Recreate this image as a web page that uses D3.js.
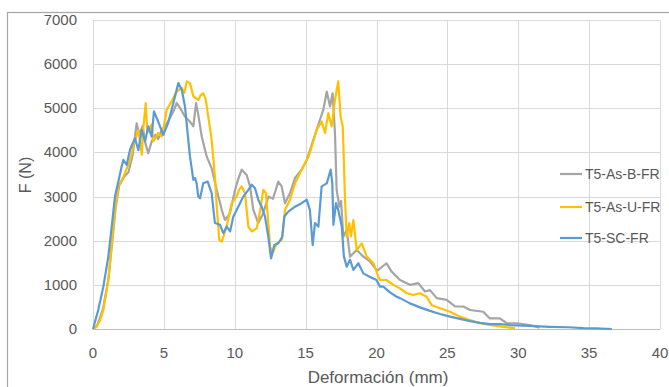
<!DOCTYPE html>
<html>
<head>
<meta charset="utf-8">
<script src="https://cdn.jsdelivr.net/npm/d3@7"></script>
<style>
  body { margin: 0; background: #fff; }
  svg { display: block; font-family: "Liberation Sans", Arial, sans-serif; }
</style>
</head>
<body>
<div id="chart"></div>
<script>
// Deformación (mm), F (N) pairs
const grayData = [[0,0],[0.3,80],[0.7,450],[1.1,1150],[1.35,1950],[1.6,2750],[1.85,3250],[2.2,3450],[2.5,3550],[2.8,3950],[3.08,4660],[3.2,4500],[3.32,4440],[3.5,4600],[3.7,4200],[3.9,3980],[4.14,4250],[4.4,4400],[4.6,4300],[4.84,4510],[5.1,4600],[5.43,4780],[5.7,4950],[5.9,5120],[6.14,5010],[6.49,4810],[6.84,4700],[7.08,4590],[7.27,5120],[7.43,4850],[7.67,4360],[8.02,3910],[8.37,3640],[8.73,3150],[9.08,2700],[9.31,2470],[9.66,2620],[10.02,3150],[10.25,3400],[10.49,3610],[10.84,3490],[11.08,3230],[11.31,2700],[11.66,2400],[12.01,2620],[12.37,3000],[12.7,2950],[13.07,3340],[13.31,3230],[13.55,2850],[13.9,3080],[14.25,3420],[14.72,3610],[15.08,3830],[15.55,4290],[16.01,4740],[16.25,4970],[16.49,5380],[16.72,5040],[16.9,5340],[17.07,4440],[17.19,3150],[17.38,2770],[17.5,2900],[17.66,2090],[17.9,2240],[18.13,1640],[18.6,1790],[19.07,1640],[19.54,1530],[20.0,1340],[20.13,1340],[20.7,1490],[21.07,1300],[21.66,1110],[22.36,1000],[22.95,1040],[23.42,850],[23.77,880],[24.25,700],[24.95,660],[25.54,510],[26.13,510],[26.6,430],[27.53,390],[28.0,240],[28.7,240],[29.19,130],[29.9,130],[30.8,90],[31.5,30]];

const yellowData = [[0,0],[0.26,50],[0.5,200],[0.73,430],[1.08,1110],[1.32,1940],[1.55,2700],[1.79,3230],[2.14,3450],[2.4,3650],[2.6,3800],[2.84,4130],[3.0,4300],[3.2,4510],[3.44,3950],[3.55,4550],[3.72,5120],[3.83,4440],[4.14,4630],[4.25,4250],[4.6,4440],[4.84,4360],[5.0,4600],[5.2,4970],[5.55,5160],[5.9,5380],[6.26,5460],[6.45,5350],[6.61,5610],[6.84,5570],[7.08,5270],[7.43,5190],[7.6,5300],[7.78,5340],[7.95,5200],[8.13,4810],[8.37,4290],[8.6,3450],[8.73,2770],[8.91,2020],[9.08,1980],[9.43,2320],[9.78,2850],[10.13,3000],[10.3,3150],[10.49,3230],[10.72,3080],[10.96,2320],[11.2,2210],[11.55,2280],[11.8,2700],[12.01,3150],[12.2,3080],[12.37,2400],[12.49,1870],[12.67,1720],[12.96,1940],[13.31,2020],[13.55,2700],[13.9,2930],[14.25,3300],[14.6,3530],[14.96,3760],[15.2,3900],[15.43,4130],[15.78,4510],[16.13,4700],[16.37,4440],[16.6,4890],[16.84,4590],[17.07,5190],[17.3,5610],[17.47,4810],[17.62,4590],[17.78,2930],[17.9,2090],[18.08,2400],[18.2,2100],[18.37,2470],[18.6,1790],[18.96,1940],[19.31,1640],[19.54,1570],[19.78,1490],[20.13,1190],[20.25,1110],[20.7,1110],[21.19,1000],[21.66,920],[22.13,810],[22.6,770],[23.07,810],[23.54,730],[23.89,540],[24.48,470],[25.19,390],[25.89,280],[26.6,200],[27.3,130],[28.0,90],[28.95,50],[29.77,15]];

const blueData = [[0,0],[0.37,430],[0.73,960],[1.08,1640],[1.32,2320],[1.55,3000],[1.79,3340],[2.02,3680],[2.14,3830],[2.38,3720],[2.61,4060],[2.96,4320],[3.2,4050],[3.44,4510],[3.67,4250],[3.9,4590],[4.14,4360],[4.3,4930],[4.6,4700],[4.96,4400],[5.3,4670],[5.67,5120],[6.02,5570],[6.26,5420],[6.49,5040],[6.72,4290],[6.84,3910],[7.08,3380],[7.2,3420],[7.31,3300],[7.43,3000],[7.55,2960],[7.78,3300],[8.09,3340],[8.37,3080],[8.6,2400],[8.96,2360],[9.19,2170],[9.43,2320],[9.67,2210],[9.9,2550],[10.25,2770],[10.6,3000],[10.96,3150],[11.2,3270],[11.43,3190],[11.66,2930],[11.9,2770],[12.13,2550],[12.37,2090],[12.56,1600],[12.79,1900],[13.07,1940],[13.36,2090],[13.5,2550],[13.78,2660],[14.25,2770],[14.72,2850],[15.08,2930],[15.3,2700],[15.5,1900],[15.66,2400],[15.9,2320],[16.13,3230],[16.49,3300],[16.77,3610],[16.88,3300],[16.96,2360],[17.14,2850],[17.3,2700],[17.55,2320],[17.7,1640],[17.9,1410],[18.13,1570],[18.37,1340],[18.72,1490],[19.07,1260],[19.54,1180],[20.0,1110],[20.25,960],[20.48,960],[20.95,830],[21.42,730],[21.66,700],[22.36,580],[23.07,490],[23.77,410],[24.48,340],[25.19,280],[25.89,230],[26.6,180],[27.3,140],[28.0,110],[28.7,110],[29.4,90],[30.8,70],[32.2,50],[33.5,40],[34.6,20],[35.5,15],[36.6,0]];

const seriesNames = ['T5-As-B-FR', 'T5-As-U-FR', 'T5-SC-FR'];
const seriesColors = ['#a5a5a5', '#ffc000', '#5b9bd5'];
const xTicks = [0, 5, 10, 15, 20, 25, 30, 35, 40];
const yTicks = [0, 1000, 2000, 3000, 4000, 5000, 6000, 7000];

const W = 669, H = 387;
const svg = d3.select('#chart').append('svg').attr('width', W).attr('height', H);
svg.append('rect').attr('width', W).attr('height', H).attr('fill', '#fff');

// outer chart frame
svg.append('rect')
  .attr('x', 7.5).attr('y', 12.5).attr('width', 700).attr('height', 400)
  .attr('fill', 'none').attr('stroke', '#a6a6a6').attr('stroke-width', 1.2);

const x = d3.scaleLinear().domain([0, 40]).range([93, 660]);
const y = d3.scaleLinear().domain([0, 7000]).range([329, 20]);

// grid
svg.append('g')
  .attr('stroke-width', 1)
  .selectAll('line.h').data(yTicks).enter().append('line')
  .attr('x1', x(0)).attr('x2', x(40))
  .attr('y1', d => Math.round(y(d)) + 0.5).attr('y2', d => Math.round(y(d)) + 0.5)
  .attr('stroke', d => d === 0 ? '#bfbfbf' : '#d9d9d9');
svg.append('g')
  .attr('stroke', '#d9d9d9').attr('stroke-width', 1)
  .selectAll('line.v').data(xTicks).enter().append('line')
  .attr('x1', d => Math.round(x(d)) + 0.5).attr('x2', d => Math.round(x(d)) + 0.5)
  .attr('y1', y(7000)).attr('y2', y(0));

// tick labels
svg.append('g').selectAll('text').data(yTicks).enter().append('text')
  .attr('x', 77).attr('y', d => y(d) + 5)
  .attr('text-anchor', 'end').attr('font-size', '15px').attr('fill', '#595959')
  .text(d => d);
svg.append('g').selectAll('text').data(xTicks).enter().append('text')
  .attr('x', d => x(d)).attr('y', 358)
  .attr('text-anchor', 'middle').attr('font-size', '15px').attr('fill', '#595959')
  .text(d => d);

// axis titles
svg.append('text')
  .attr('x', 378).attr('y', 383)
  .attr('text-anchor', 'middle').attr('font-size', '17px').attr('fill', '#595959')
  .text('Deformación (mm)');
svg.append('text')
  .attr('transform', 'translate(31,175) rotate(-90)')
  .attr('text-anchor', 'middle').attr('font-size', '16px').attr('fill', '#595959')
  .text('F (N)');

// lines
const line = d3.line().x(d => x(d[0])).y(d => y(d[1]));
[grayData, yellowData, blueData].forEach((data, i) => {
  svg.append('path')
    .datum(data)
    .attr('fill', 'none')
    .attr('stroke', seriesColors[i])
    .attr('stroke-width', 2.2)
    .attr('stroke-linejoin', 'round')
    .attr('d', line);
});

// legend
const legend = svg.append('g').attr('transform', 'translate(560, 174)');
seriesNames.forEach((name, i) => {
  const ly = [0, 33, 64][i];
  legend.append('line')
    .attr('x1', 0).attr('x2', 22).attr('y1', ly).attr('y2', ly)
    .attr('stroke', seriesColors[i]).attr('stroke-width', 2.2);
  legend.append('text')
    .attr('x', 25).attr('y', ly + 5)
    .attr('font-size', '14px').attr('fill', '#595959')
    .text(name);
});
</script>
</body>
</html>
